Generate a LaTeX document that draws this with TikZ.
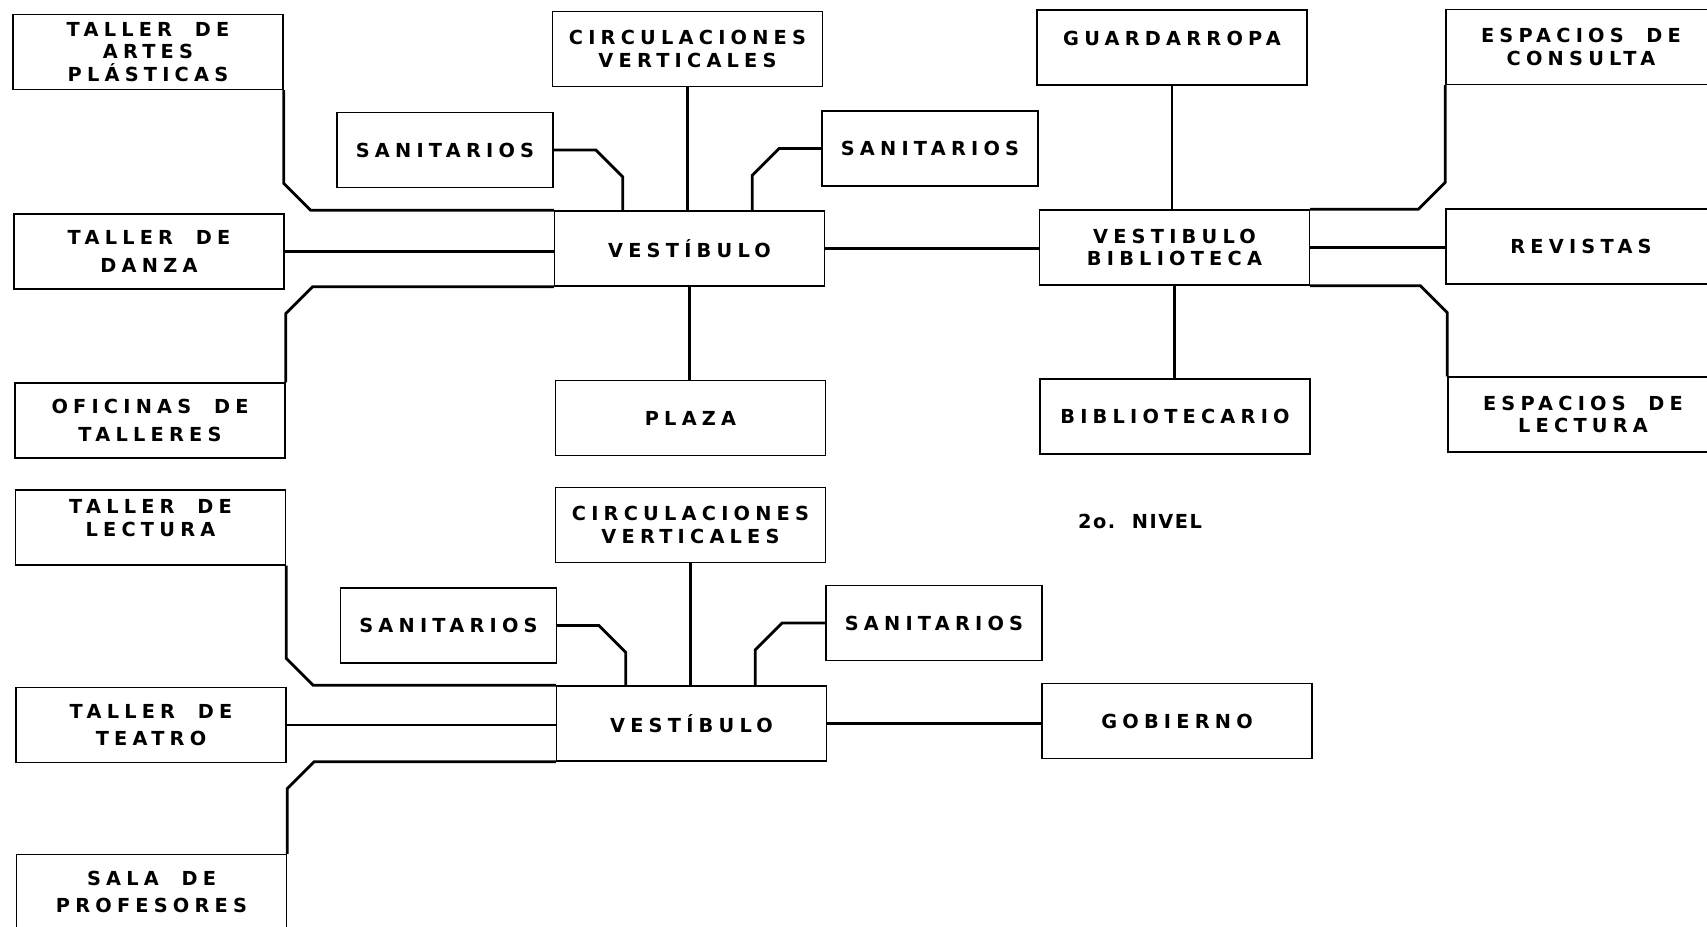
\documentclass[tikz,border=0pt]{standalone}
\usepackage{fontspec}
\setmainfont{DejaVu Sans}
\newfontfamily\roomfont{DejaVu Sans}[LetterSpace=27, WordSpace=1.9]
\newfontfamily\levelfont{DejaVu Sans}[LetterSpace=8]
\usepackage{tikz}
\usetikzlibrary{calc}
\tikzset{
	room/.style={draw, line width=0.8pt, minimum width=5.4cm, minimum height=1.5cm, inner sep=0pt, align=center, font=\roomfont\bfseries\fontsize{11}{12.6}\selectfont},
	wc/.style={room, minimum width=4.32cm},
	raised/.style={text depth=0.38cm},
	link/.style={line width=1.6pt}
}

\begin{document}
\begin{tikzpicture}
	\clip (0,0) rectangle (34.14,-18.52);

% nivel de arriba
	\node[room] (artes) at (2.96,-1.04) {TALLER DE\\ARTES\\PLÁSTICAS};
	\node[room] (danza) at (2.98,-5.03) {TALLER DE\\[0.1cm]DANZA};
	\node[room] (oficinas) at (3.00,-8.41) {OFICINAS DE\\[0.1cm]TALLERES};
	
	\node[room] (circ1) at (13.75,-0.98) {CIRCULACIONES\\VERTICALES};
	\node[wc] (sanL1) at (8.90,-3.00) {SANITARIOS};
	\node[wc] (sanR1) at (18.60,-2.97) {SANITARIOS};
	\node[room] (vest1) at (13.79,-4.97) {VESTÍBULO};
	\node[room] (plaza) at (13.81,-8.36) {PLAZA};
	
	\node[room, raised] (guard) at (23.44,-0.95) {GUARDARROPA};
	\node[room] (vb) at (23.49,-4.95) {VESTIBULO\\BIBLIOTECA};
	\node[room] (biblio) at (23.50,-8.33) {BIBLIOTECARIO};
	
	\node[room] (consulta) at (31.62,-0.94) {ESPACIOS DE\\CONSULTA};
	\node[room] (revistas) at (31.62,-4.93) {REVISTAS};
	\node[room] (esplect) at (31.66,-8.29) {ESPACIOS DE\\LECTURA};

% nivel de abajo
	\node[room, raised] (tlect) at (3.01,-10.55) {TALLER DE\\LECTURA};
	\node[room] (teatro) at (3.02,-14.50) {TALLER DE\\[0.1cm]TEATRO};
	\node[room] (profes) at (3.03,-17.84) {SALA DE\\[0.1cm]PROFESORES};
	
	\node[room] (circ2) at (13.81,-10.50) {CIRCULACIONES\\VERTICALES};
	\node[wc] (sanL2) at (8.97,-12.51) {SANITARIOS};
	\node[wc] (sanR2) at (18.68,-12.46) {SANITARIOS};
	\node[room] (vest2) at (13.83,-14.47) {VESTÍBULO};
	
	\node[room] (gob) at (23.54,-14.42) {GOBIERNO};
	
	\node[font=\levelfont\bfseries\fontsize{11}{12.6}\selectfont] (nivel) at (22.80,-10.42) {2o.\ \ NIVEL};

% links vestibulo
	\coordinate (c1) at (artes.south east |- vest1.north west);
	\draw[link] (artes.south east) -- ($(c1)+(0,0.54)$) -- ($(c1)+(0.54,0)$) -- (vest1.north west);
	\draw[link] (danza.east) -- (danza.east -| vest1.west);
	\coordinate (c2) at (oficinas.north east |- vest1.south west);
	\draw[link] (vest1.south west) -- ($(c2)+(0.54,0)$) -- ($(c2)+(0,-0.54)$) -- (oficinas.north east);
	
	\coordinate (d1) at ($(vest1.north west)+(1.38,0)$);
	\draw[link] (sanL1.east) -- ($(sanL1.east -| d1)+(-0.54,0)$) -- ($(sanL1.east -| d1)+(0,-0.54)$) -- (d1);
	\draw[link] (circ1.south) -- (circ1.south |- vest1.north);
	\coordinate (d2) at ($(vest1.north east)+(-1.46,0)$);
	\draw[link] (sanR1.west) -- ($(sanR1.west -| d2)+(0.54,0)$) -- ($(sanR1.west -| d2)+(0,-0.54)$) -- (d2);
	\draw[link] (vest1.south) -- (vest1.south |- plaza.north);
	\draw[link] (vest1.east) -- (vest1.east -| vb.west);

% links biblioteca
	\draw[link] (guard.south) -- (guard.south |- vb.north);
	\draw[link] (vb.south) -- (vb.south |- biblio.north);
	\coordinate (c3) at (consulta.south west |- vb.north east);
	\draw[link] (vb.north east) -- ($(c3)+(-0.54,0)$) -- ($(c3)+(0,0.54)$) -- (consulta.south west);
	\draw[link] (vb.east) -- (vb.east -| revistas.west);
	\coordinate (c4) at (esplect.north west |- vb.south east);
	\draw[link] (vb.south east) -- ($(c4)+(-0.54,0)$) -- ($(c4)+(0,-0.54)$) -- (esplect.north west);

% links nivel de abajo
	\coordinate (c5) at (tlect.south east |- vest2.north west);
	\draw[link] (tlect.south east) -- ($(c5)+(0,0.54)$) -- ($(c5)+(0.54,0)$) -- (vest2.north west);
	\draw[link] (teatro.east) -- (teatro.east -| vest2.west);
	\coordinate (c6) at (profes.north east |- vest2.south west);
	\draw[link] (vest2.south west) -- ($(c6)+(0.54,0)$) -- ($(c6)+(0,-0.54)$) -- (profes.north east);
	
	\coordinate (d3) at ($(vest2.north west)+(1.40,0)$);
	\draw[link] (sanL2.east) -- ($(sanL2.east -| d3)+(-0.54,0)$) -- ($(sanL2.east -| d3)+(0,-0.54)$) -- (d3);
	\draw[link] (circ2.south) -- (circ2.south |- vest2.north);
	\coordinate (d4) at ($(vest2.north east)+(-1.44,0)$);
	\draw[link] (sanR2.west) -- ($(sanR2.west -| d4)+(0.54,0)$) -- ($(sanR2.west -| d4)+(0,-0.54)$) -- (d4);
	\draw[link] (vest2.east) -- (vest2.east -| gob.west);

\end{tikzpicture}
\end{document}
